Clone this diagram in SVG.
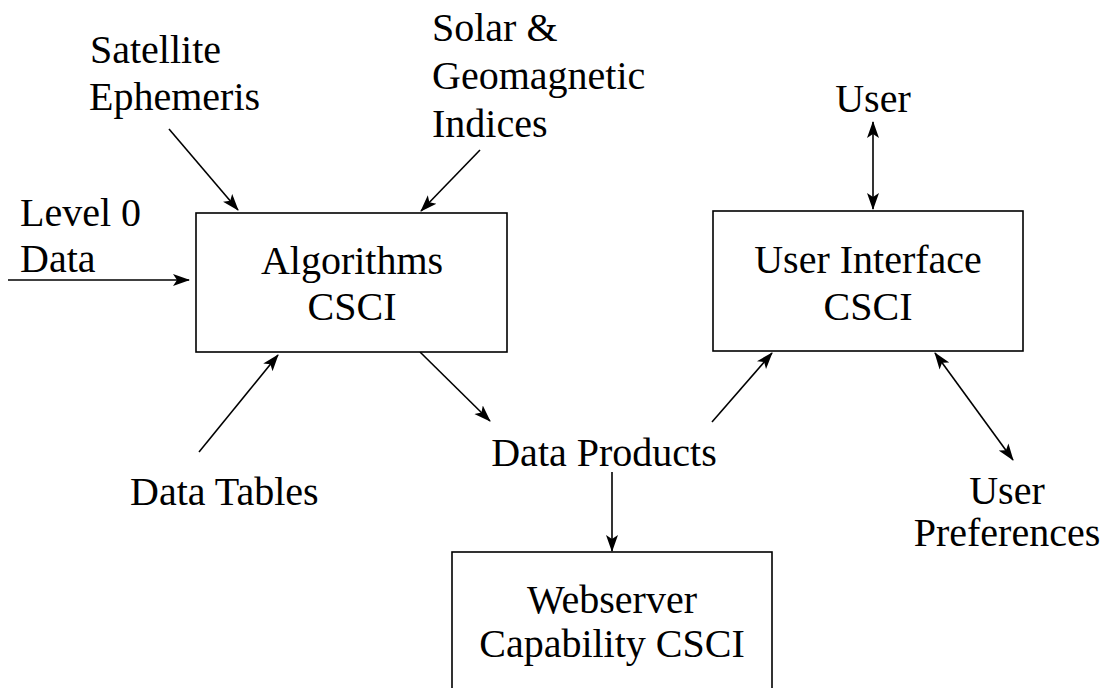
<svg xmlns="http://www.w3.org/2000/svg" width="1107" height="688" viewBox="0 0 1107 688">
  <style>
    text { font-family: "Liberation Serif", "Times New Roman", serif; font-size: 40px; fill: #000; }
    .box { fill: #fff; stroke: #000; stroke-width: 1.6; }
    .link { stroke: #000; stroke-width: 1.6; fill: none; marker-end: url(#head); }
    .both { marker-start: url(#head); }
  </style>
  <defs>
    <marker id="head" markerUnits="userSpaceOnUse" markerWidth="18" markerHeight="14" refX="16" refY="6" orient="auto-start-reverse" viewBox="0 0 18 12">
      <path d="M0,0 L17,6 L0,12 L4,6 z" fill="#000"/>
    </marker>
  </defs>
  <rect width="1107" height="688" fill="#fff"/>

  <!-- connectors -->
  <g id="connectors">
    <line class="link" x1="8" y1="280" x2="189" y2="280"/>
    <line class="link" x1="169" y1="129" x2="238" y2="210"/>
    <line class="link" x1="480" y1="150" x2="421" y2="211"/>
    <line class="link" x1="199" y1="452" x2="278" y2="355"/>
    <line class="link" x1="420" y1="352" x2="490" y2="421"/>
    <line class="link" x1="712" y1="422" x2="772" y2="353"/>
    <line class="link" x1="612" y1="472" x2="612" y2="551"/>
    <line class="link both" x1="873" y1="122" x2="873" y2="209"/>
    <line class="link both" x1="935" y1="353" x2="1013" y2="460"/>
  </g>

  <!-- source and sink labels -->
  <g id="satellite-ephemeris">
    <text x="90" y="63">Satellite</text>
    <text x="89" y="110">Ephemeris</text>
  </g>
  <g id="solar-geomagnetic">
    <text x="432" y="41">Solar &amp;</text>
    <text x="432" y="89">Geomagnetic</text>
    <text x="432" y="137">Indices</text>
  </g>
  <g id="level0-data">
    <text x="20" y="226">Level 0</text>
    <text x="20" y="272">Data</text>
  </g>
  <g id="data-tables">
    <text x="130" y="505">Data Tables</text>
  </g>
  <g id="data-products">
    <text x="604" y="466" text-anchor="middle">Data Products</text>
  </g>
  <g id="user">
    <text x="873" y="112" text-anchor="middle">User</text>
  </g>
  <g id="user-preferences">
    <text x="1007" y="504" text-anchor="middle">User</text>
    <text x="1007" y="546" text-anchor="middle">Preferences</text>
  </g>

  <!-- CSCI boxes -->
  <g id="algorithms-csci">
    <rect class="box" x="196" y="213" width="311" height="139"/>
    <text x="352" y="274" text-anchor="middle">Algorithms</text>
    <text x="352" y="320" text-anchor="middle">CSCI</text>
  </g>
  <g id="user-interface-csci">
    <rect class="box" x="713" y="211" width="310" height="140"/>
    <text x="868" y="273" text-anchor="middle">User Interface</text>
    <text x="868" y="320" text-anchor="middle">CSCI</text>
  </g>
  <g id="webserver-csci">
    <rect class="box" x="452" y="552" width="320" height="150"/>
    <text x="612" y="613" text-anchor="middle">Webserver</text>
    <text x="612" y="657" text-anchor="middle">Capability CSCI</text>
  </g>
</svg>
